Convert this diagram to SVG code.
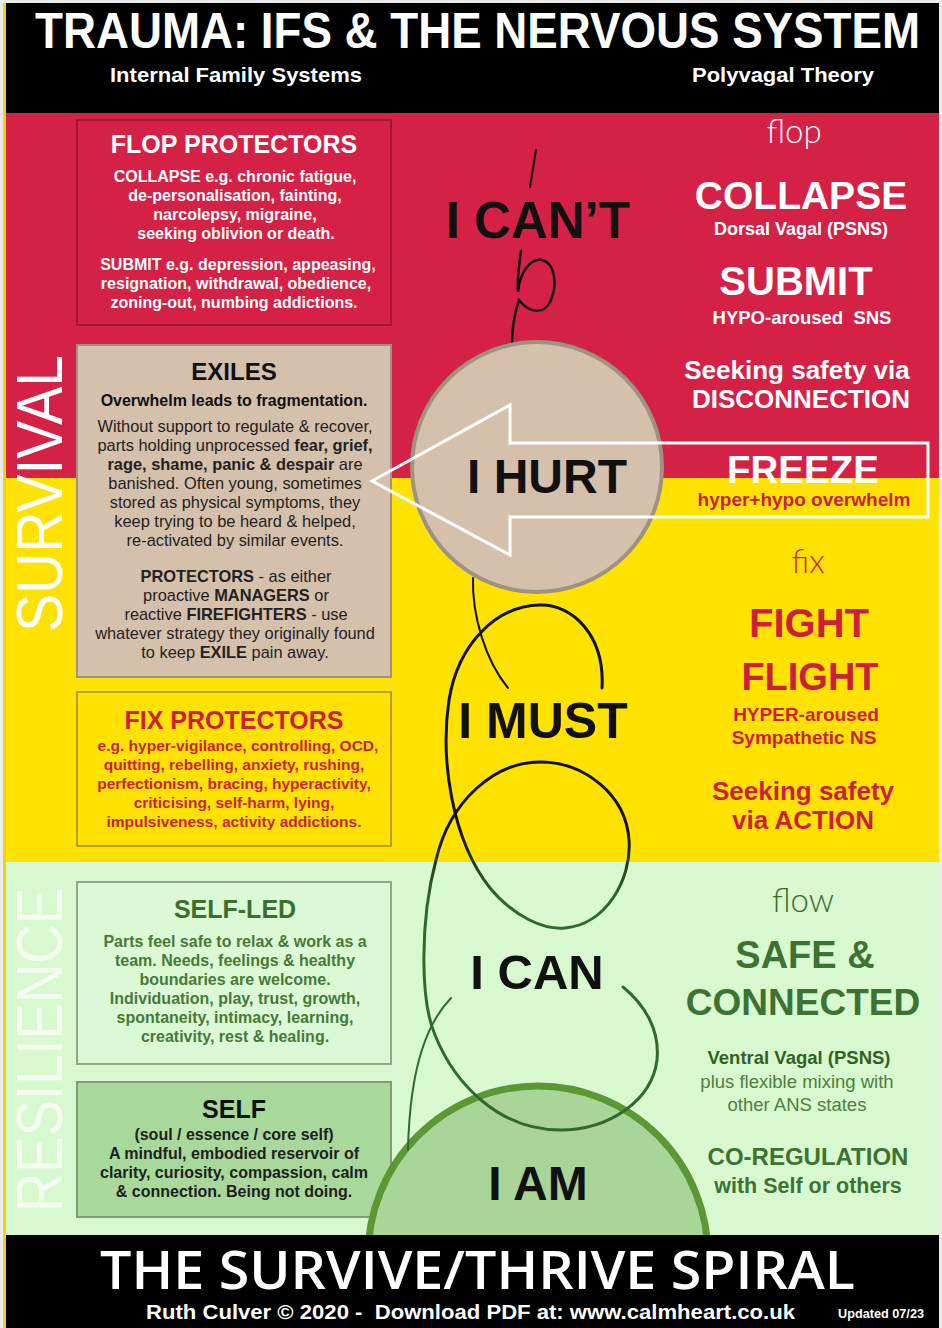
<svg xmlns="http://www.w3.org/2000/svg" width="942" height="1328" viewBox="0 0 942 1328">
<style>
.b{font-family:"Liberation Sans",Arial,sans-serif;font-weight:bold}
.r{font-family:"Liberation Sans",Arial,sans-serif;font-weight:normal}
.n{font-family:"Liberation Sans Narrow","Liberation Sans",Arial,sans-serif;font-weight:bold}
.t{font-family:Lato,"Open Sans",sans-serif;font-weight:300}
.m{text-anchor:middle}
.w{fill:#ffffff}
.k{fill:#111111}
.cr{fill:#cc1f3c}
.body{font-size:16px}
.ex{font-size:16.4px}
</style>
<defs>
<linearGradient id="spg" x1="0" y1="830" x2="0" y2="900" gradientUnits="userSpaceOnUse">
<stop offset="0" stop-color="#111111"/>
<stop offset="1" stop-color="#2f6a2c"/>
</linearGradient>
</defs>

<!-- background bands -->
<rect x="0" y="0" width="942" height="1328" fill="#ebebeb"/>
<rect x="3" y="3" width="3" height="1325" fill="#f3d400"/>
<rect x="6" y="3" width="933" height="110" fill="#000000"/>
<rect x="6" y="113" width="933" height="365" fill="#d42145"/>
<rect x="6" y="478" width="933" height="384" fill="#ffe200"/>
<rect x="6" y="862" width="933" height="373" fill="#d8f8d0"/>

<!-- header -->
<g id="header">
<text class="n w" x="35" y="48" font-size="50" textLength="885" lengthAdjust="spacingAndGlyphs">TRAUMA: IFS &amp; THE NERVOUS SYSTEM</text>
<text class="n w" x="110" y="82" font-size="21" textLength="252" lengthAdjust="spacingAndGlyphs">Internal Family Systems</text>
<text class="n w" x="692" y="82" font-size="21" textLength="182" lengthAdjust="spacingAndGlyphs">Polyvagal Theory</text>
</g>

<!-- side labels -->
<g id="survival">
<text class="r" fill="#ffffff" font-size="64" transform="translate(62,632) rotate(-90)" textLength="277" lengthAdjust="spacingAndGlyphs">SURVIVAL</text>
</g>
<g id="resilience">
<text class="r" fill="#f4fcf1" font-size="64" transform="translate(62,1212) rotate(-90)" textLength="324" lengthAdjust="spacingAndGlyphs">RESILIENCE</text>
</g>

<!-- left boxes -->
<g id="flop-protectors">
<rect x="77" y="120" width="314" height="205" fill="#d42145" stroke="#a3162f" stroke-width="2"/>
<text class="b w m" x="234" y="153" font-size="25">FLOP PROTECTORS</text>
<text class="b w m body" x="235" y="182">COLLAPSE e.g. chronic fatigue,</text>
<text class="b w m body" x="235" y="201">de-personalisation, fainting,</text>
<text class="b w m body" x="235" y="220">narcolepsy, migraine,</text>
<text class="b w m body" x="236" y="239">seeking oblivion or death.</text>
<text class="b w m body" x="238" y="270">SUBMIT e.g. depression, appeasing,</text>
<text class="b w m body" x="236" y="289">resignation, withdrawal, obedience,</text>
<text class="b w m body" x="234" y="308">zoning-out, numbing addictions.</text>
</g>

<g id="exiles">
<rect x="77" y="345" width="314" height="332" fill="#d5c0ac" stroke="#9d9283" stroke-width="2"/>
<text class="b k m" x="234" y="380" font-size="24">EXILES</text>
<text class="b k m body" x="234" y="406">Overwhelm leads to fragmentation.</text>
<text class="r m ex" fill="#222" x="235" y="432">Without support to regulate &amp; recover,</text>
<text class="r m ex" fill="#222" x="235" y="451">parts holding unprocessed <tspan font-weight="bold">fear, grief,</tspan></text>
<text class="r m ex" fill="#222" x="235" y="470"><tspan font-weight="bold">rage, shame, panic &amp; despair</tspan> are</text>
<text class="r m ex" fill="#222" x="235" y="489">banished. Often young, sometimes</text>
<text class="r m ex" fill="#222" x="235" y="508">stored as physical symptoms, they</text>
<text class="r m ex" fill="#222" x="235" y="527">keep trying to be heard &amp; helped,</text>
<text class="r m ex" fill="#222" x="235" y="546">re-activated by similar events.</text>
<text class="r m ex" fill="#222" x="236" y="582"><tspan font-weight="bold">PROTECTORS</tspan> - as either</text>
<text class="r m ex" fill="#222" x="236" y="601">proactive <tspan font-weight="bold">MANAGERS</tspan> or</text>
<text class="r m ex" fill="#222" x="236" y="620">reactive <tspan font-weight="bold">FIREFIGHTERS</tspan> - use</text>
<text class="r m ex" fill="#222" x="235" y="639">whatever strategy they originally found</text>
<text class="r m ex" fill="#222" x="235" y="658">to keep <tspan font-weight="bold">EXILE</tspan> pain away.</text>
</g>

<g id="fix-protectors">
<rect x="77" y="692" width="314" height="154" fill="#ffe200" stroke="#b2a02c" stroke-width="2"/>
<text class="b cr m" x="234" y="729" font-size="25">FIX PROTECTORS</text>
<text class="b cr m" font-size="15.5" x="238" y="751">e.g. hyper-vigilance, controlling, OCD,</text>
<text class="b cr m" font-size="15.5" x="234" y="770">quitting, rebelling, anxiety, rushing,</text>
<text class="b cr m" font-size="15.5" x="234" y="789">perfectionism, bracing, hyperactivity,</text>
<text class="b cr m" font-size="15.5" x="234" y="808">criticising, self-harm, lying,</text>
<text class="b cr m" font-size="15.5" x="234" y="827">impulsiveness, activity addictions.</text>
</g>

<g id="self-led">
<rect x="77" y="882" width="314" height="182" fill="#dcf9d5" stroke="#8fa88a" stroke-width="2"/>
<text class="b m" fill="#3b6f2d" x="235" y="918" font-size="25">SELF-LED</text>
<text class="b m body" fill="#467a36" x="235" y="947">Parts feel safe to relax &amp; work as a</text>
<text class="b m body" fill="#467a36" x="235" y="966">team. Needs, feelings &amp; healthy</text>
<text class="b m body" fill="#467a36" x="235" y="985">boundaries are welcome.</text>
<text class="b m body" fill="#467a36" x="235" y="1004">Individuation, play, trust, growth,</text>
<text class="b m body" fill="#467a36" x="235" y="1023">spontaneity, intimacy, learning,</text>
<text class="b m body" fill="#467a36" x="235" y="1042">creativity, rest &amp; healing.</text>
</g>

<g id="self">
<rect x="77" y="1082" width="314" height="135" fill="#a9d89b" stroke="#7e9d76" stroke-width="2"/>
<text class="b k m" x="234" y="1118" font-size="25">SELF</text>
<text class="b m body" fill="#1e1e1e" x="234" y="1140">(soul / essence / core self)</text>
<text class="b m body" fill="#1e1e1e" x="234" y="1159">A mindful, embodied reservoir of</text>
<text class="b m body" fill="#1e1e1e" x="234" y="1178">clarity, curiosity, compassion, calm</text>
<text class="b m body" fill="#1e1e1e" x="234" y="1197">&amp; connection. Being not doing.</text>
</g>

<!-- I AM circle (behind spiral) -->
<g id="i-am">
<circle cx="538" cy="1256" r="170" fill="#a9d598" stroke="#5b9834" stroke-width="7"/>
</g>

<!-- connectors -->
<g id="connectors" fill="none" stroke-linecap="round">
<path d="M536,150 Q533,168 530,187" stroke="#111" stroke-width="2"/>
<path d="M521,251 C519,265 517,280 518,292 C520,270 532,258 542,260 C555,263 558,285 550,302 C544,314 530,314 519,300 C514,315 512,330 512,344" stroke="#111" stroke-width="2.5"/>
<path d="M473,578 C472,615 485,660 508,688" stroke="#111" stroke-width="2"/>
<path d="M602,688 C605,635 572,604 540,605 C495,606 458,645 449,700 C440,760 452,840 490,888 C515,918 545,930 565,928 C605,925 632,880 629,840 C626,795 585,762 540,762 C495,762 450,800 436,860 C420,920 420,1000 435,1035 C455,1085 500,1130 560,1130 C610,1130 652,1100 657,1060 C660,1030 645,1005 623,987" stroke="url(#spg)" stroke-width="3"/>
<path d="M451,998 C430,1020 410,1060 408,1150" stroke="#2f6a2c" stroke-width="2"/>
</g>

<!-- I HURT circle -->
<g id="i-hurt">
<circle cx="537" cy="467" r="125" fill="#d5c0ac" stroke="#9d9283" stroke-width="4"/>
</g>

<!-- big arrow -->
<g id="arrow">
<path d="M372,481 L510,405 L510,443 L928,443 L928,517 L510,517 L510,555 Z" fill="none" stroke="#ffffff" stroke-width="3" stroke-linejoin="miter"/>
</g>

<!-- center labels -->
<g id="i-cant"><text class="b k m" x="538" y="238" font-size="51">I CAN’T</text></g>
<g id="i-hurt-label"><text class="b k m" x="547" y="493" font-size="48">I HURT</text></g>
<g id="i-must"><text class="b k m" x="543" y="738" font-size="50">I MUST</text></g>
<g id="i-can"><text class="b k m" x="537" y="989" font-size="49">I CAN</text></g>
<g id="i-am-label"><text class="b k m" x="538" y="1200" font-size="48">I AM</text></g>

<!-- right column -->
<g id="flop">
<text class="t w m" x="794" y="143" font-size="33">flop</text>
<text class="b w m" x="801" y="209" font-size="39">COLLAPSE</text>
<text class="b w m" x="801" y="235" font-size="18">Dorsal Vagal (PSNS)</text>
<text class="b w m" x="796" y="295" font-size="40">SUBMIT</text>
<text class="b w m" x="802" y="324" font-size="18.5" xml:space="preserve">HYPO-aroused  SNS</text>
<text class="b w m" x="797" y="379" font-size="26">Seeking safety via</text>
<text class="b w m" x="801" y="408" font-size="26">DISCONNECTION</text>
</g>

<g id="freeze">
<text class="b w m" x="803" y="483" font-size="38.5">FREEZE</text>
<text class="b cr m" x="804" y="506" font-size="19">hyper+hypo overwhelm</text>
</g>

<g id="fix">
<text class="t cr m" x="808" y="573" font-size="33">fix</text>
<text class="b cr m" x="809" y="637" font-size="40">FIGHT</text>
<text class="b cr m" x="810" y="690" font-size="38">FLIGHT</text>
<text class="b cr m" x="806" y="721" font-size="19">HYPER-aroused</text>
<text class="b cr m" x="804" y="744" font-size="19">Sympathetic NS</text>
<text class="b cr m" x="803" y="800" font-size="26">Seeking safety</text>
<text class="b cr m" x="803" y="829" font-size="26">via ACTION</text>
</g>

<g id="flow">
<text class="t m" fill="#3b6a2c" x="803" y="912" font-size="33">flow</text>
<text class="b m" fill="#3d7230" x="805" y="968" font-size="38">SAFE &amp;</text>
<text class="b m" fill="#3d7230" x="803" y="1015" font-size="37">CONNECTED</text>
<text class="b m" fill="#2f6222" x="799" y="1064" font-size="18.5">Ventral Vagal (PSNS)</text>
<text class="r m" fill="#4f7f3e" x="797" y="1088" font-size="18.5">plus flexible mixing with</text>
<text class="r m" fill="#4f7f3e" x="797" y="1111" font-size="18.5">other ANS states</text>
<text class="b m" fill="#3d7230" x="808" y="1165" font-size="24">CO-REGULATION</text>
<text class="b m" fill="#3d7230" x="808" y="1193" font-size="21.5">with Self or others</text>
</g>

<!-- footer -->
<g id="footer">
<rect x="6" y="1235" width="933" height="93" fill="#000000"/>
<text x="100" y="1289" fill="#ffffff" font-family="'Open Sans','Noto Sans',sans-serif" font-weight="600" font-size="52" textLength="755" lengthAdjust="spacingAndGlyphs">THE SURVIVE/THRIVE SPIRAL</text>
<text class="n w" x="146" y="1319" font-size="19.5" textLength="649" lengthAdjust="spacingAndGlyphs" xml:space="preserve">Ruth Culver © 2020 -  Download PDF at: www.calmheart.co.uk</text>
<text class="n w" x="838" y="1318" font-size="12.5" textLength="86" lengthAdjust="spacingAndGlyphs">Updated 07/23</text>
</g>
</svg>
